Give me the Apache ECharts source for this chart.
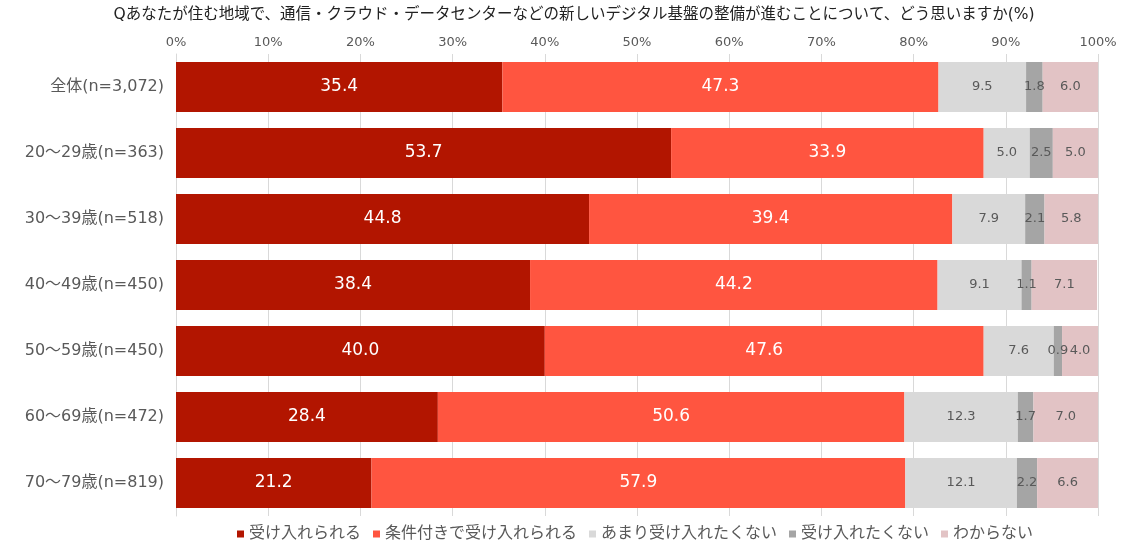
<!DOCTYPE html>
<html><head><meta charset="utf-8">
<script src="https://cdn.jsdelivr.net/npm/echarts@6/dist/echarts.min.js"></script>
<style>html,body{margin:0;padding:0;background:#fff}#c{width:1148px;height:552px}</style>
</head><body><div id="c"></div>
<script>
const categories = ['全体(n=3,072)','20～29歳(n=363)','30～39歳(n=518)','40～49歳(n=450)','50～59歳(n=450)','60～69歳(n=472)','70～79歳(n=819)'];
const seriesNames = ['受け入れられる','条件付きで受け入れられる','あまり受け入れたくない','受け入れたくない','わからない'];
const accept = [35.4,53.7,44.8,38.4,40.0,28.4,21.2];
const conditional = [47.3,33.9,39.4,44.2,47.6,50.6,57.9];
const notReally = [9.5,5.0,7.9,9.1,7.6,12.3,12.1];
const notAccept = [1.8,2.5,2.1,1.1,0.9,1.7,2.2];
const unknown = [6.0,5.0,5.8,7.1,4.0,7.0,6.6];
const tickLabels = ['0%','10%','20%','30%','40%','50%','60%','70%','80%','90%','100%'];

const values = [accept, conditional, notReally, notAccept, unknown];
const colors = ['#B21500','#FF5540','#D9D9D9','#A5A5A5','#E2C3C5'];
const labelColors = ['#ffffff','#ffffff','#595959','#595959','#595959'];
const labelSizes = [17,17,13,13,13];
const FONT = '"DejaVu Sans", "Noto Sans CJK JP", sans-serif';

const chart = echarts.init(document.getElementById('c'));
chart.setOption({
  animation:false,
  textStyle:{fontFamily:FONT},
  title:{text:'Qあなたが住む地域で、通信・クラウド・データセンターなどの新しいデジタル基盤の整備が進むことについて、どう思いますか(%)',
    left:'center', top:2, textStyle:{fontSize:15.5,fontWeight:'normal',color:'#222',fontFamily:FONT}},
  legend:{bottom:5, left:232, itemWidth:7, itemHeight:7, itemGap:12, icon:'rect',
    textStyle:{fontSize:16,color:'#595959',fontFamily:FONT}, data:seriesNames},
  grid:{left:176, right:50, top:54, height:462},
  xAxis:{type:'value', position:'top', min:0, max:100, interval:10,
    axisLabel:{formatter:(v)=>tickLabels[Math.round(v/10)], color:'#595959', fontSize:13, margin:5},
    axisLine:{show:false}, axisTick:{show:false},
    splitLine:{show:true, lineStyle:{color:'#D9D9D9', width:1}}},
  yAxis:{type:'category', inverse:true, data:categories,
    axisLine:{show:true, lineStyle:{color:'#D9D9D9'}}, axisTick:{show:false},
    axisLabel:{color:'#595959', fontSize:16, margin:12}},
  series: seriesNames.map((n,i)=>({
    name:n, type:'bar', stack:'all', barWidth:50, data:values[i],
    itemStyle:{color:colors[i]},
    label:{show:true, position:'inside', formatter:(p)=>p.value.toFixed(1), color:labelColors[i], fontSize:labelSizes[i], fontFamily:FONT}
  }))
});
</script></body></html>
